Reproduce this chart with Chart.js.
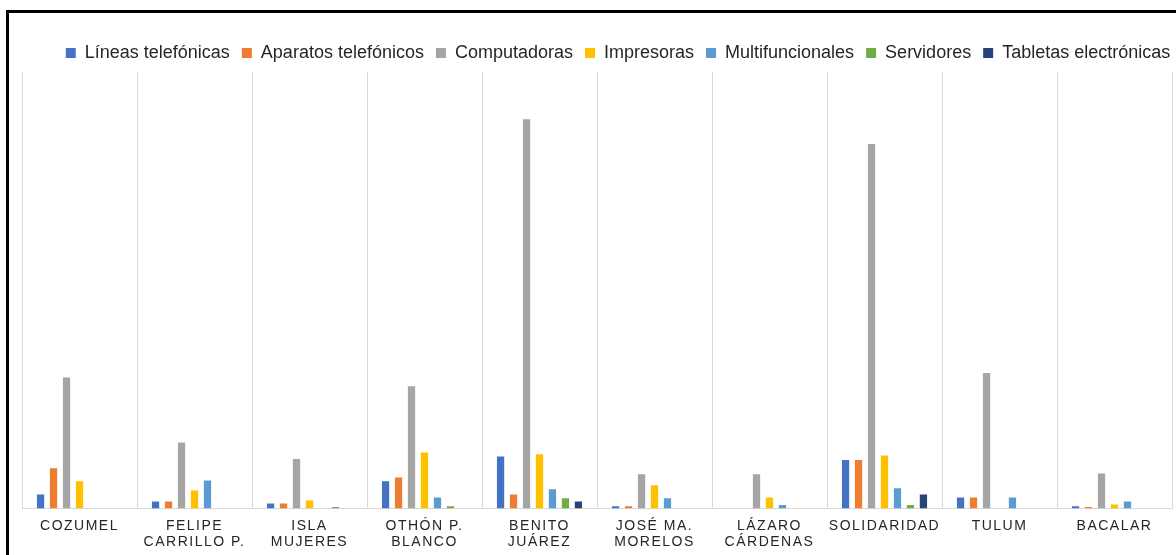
<!DOCTYPE html>
<html>
<head>
<meta charset="utf-8">
<script src="https://cdn.jsdelivr.net/npm/chart.js@4.4.1/dist/chart.umd.min.js"></script>
<style>
  html, body { margin: 0; padding: 0; background: #ffffff; overflow: hidden; }
  #wrap { position: absolute; left: 0; top: 0; width: 1176px; height: 555px; overflow: hidden; }
  #frame { position: absolute; left: 6px; top: 10px; width: 2000px; height: 2000px;
           border-left: 3px solid #000; border-top: 3px solid #000; pointer-events: none; }
</style>
</head>
<body>
<div id="wrap"><canvas id="c" width="1176" height="560"></canvas></div>
<div id="frame"></div>
<script>
const categories = [
  'COZUMEL', ['FELIPE', 'CARRILLO P.'], ['ISLA', 'MUJERES'], ['OTHÓN P.', 'BLANCO'],
  ['BENITO', 'JUÁREZ'], ['JOSÉ MA.', 'MORELOS'], ['LÁZARO', 'CÁRDENAS'],
  'SOLIDARIDAD', 'TULUM', 'BACALAR'
];
const seriesNames = ['Líneas telefónicas', 'Aparatos telefónicos', 'Computadoras', 'Impresoras',
                     'Multifuncionales', 'Servidores', 'Tabletas electrónicas'];
const lineas        = [32, 16, 11, 62, 119, 5, 0, 111, 25, 5];
const aparatos      = [92, 16, 11, 71, 32, 5, 0, 111, 25, 3];
const computadoras  = [300, 151, 113, 280, 892, 78, 78, 835, 310, 80];
const impresoras    = [62, 41, 18, 128, 124, 53, 25, 121, 0, 9];
const multifuncion  = [0, 64, 0, 25, 44, 23, 8, 46, 25, 16];
const servidores    = [0, 0, 3, 5, 23, 0, 0, 8, 0, 0];
const tabletas      = [0, 0, 0, 0, 16, 0, 0, 32, 0, 0];
const seriesValues = [lineas, aparatos, computadoras, impresoras, multifuncion, servidores, tabletas];
const seriesColors = ['#4472C4', '#ED7D31', '#A5A5A5', '#FFC000', '#5B9BD5', '#70AD47', '#264478'];

const letterSpacingPlugin = {
  id: 'xLetterSpacing',
  beforeDraw(chart) {
    const xs = chart.scales.x;
    if (xs && !xs._lsPatched) {
      const orig = xs.drawLabels;
      xs.drawLabels = function (area) {
        const ctx = this.ctx;
        ctx.save();
        ctx.letterSpacing = '1.5px';
        orig.call(this, area);
        ctx.restore();
      };
      xs._lsPatched = true;
    }
  }
};
const legendShiftPlugin = {
  id: 'legendShift',
  afterLayout(chart) {
    const lg = chart.legend;
    if (lg) { lg.left += 21; lg.right += 21; }
  }
};

new Chart(document.getElementById('c'), {
  type: 'bar',
  data: {
    labels: categories,
    datasets: seriesNames.map((n, i) => ({
      label: n,
      data: seriesValues[i],
      backgroundColor: seriesColors[i],
      borderWidth: 0,
      categoryPercentage: 0.79,
      barPercentage: 0.56
    }))
  },
  options: {
    responsive: false,
    animation: false,
    layout: { padding: { left: 22, right: 4, top: 32, bottom: 0 } },
    plugins: {
      legend: {
        position: 'top',
        labels: {
          boxWidth: 10, boxHeight: 10, padding: 12,
          color: '#262626',
          font: { family: '"Liberation Sans", Arial, Helvetica, sans-serif', size: 18 }
        }
      },
      tooltip: { enabled: false }
    },
    scales: {
      x: {
        grid: { display: true, color: '#D9D9D9', lineWidth: 1, drawTicks: false, offset: true },
        border: { display: true, color: '#D9D9D9', width: 1 },
        ticks: {
          autoSkip: false, maxRotation: 0, minRotation: 0, padding: 9,
          color: '#262626',
          font: { family: '"Liberation Sans", Arial, Helvetica, sans-serif', size: 14 }
        }
      },
      y: {
        display: false,
        min: 0, max: 1000
      }
    }
  },
  plugins: [letterSpacingPlugin, legendShiftPlugin]
});
</script>
</body>
</html>
